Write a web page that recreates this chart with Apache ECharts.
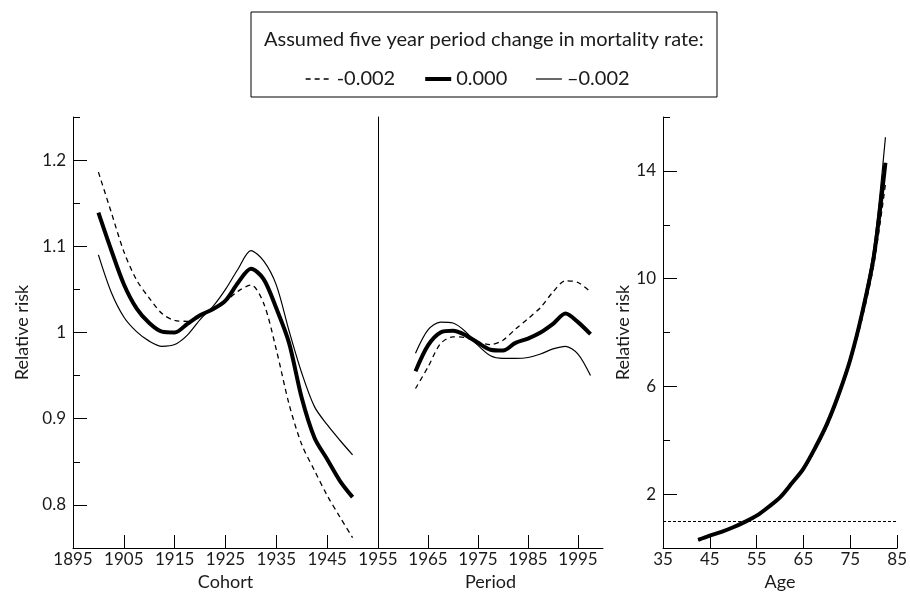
<!DOCTYPE html>
<html>
<head>
<meta charset="utf-8">
<script src="https://cdn.jsdelivr.net/npm/echarts@6/dist/echarts.min.js"></script>
<style>
html,body{margin:0;padding:0;background:#fff;}
#chart{width:910px;height:599px;}
</style>
</head>
<body>
<div id="chart"></div>
<script>
// ---- Data ----
const seriesNames = ['-0.002', '0.000', '\u20130.002'];
const legendTitle = 'Assumed five year period change in mortality rate:';

const cohortYears = [1900,1902.5,1905,1907.5,1910,1912.5,1915,1917.5,1920,1922.5,1925,1927.5,1930,1932.5,1935,1937.5,1940,1942.5,1945,1947.5,1950];
const cohortDashed = [1.186,1.140,1.094,1.061,1.040,1.022,1.014,1.013,1.019,1.026,1.036,1.048,1.055,1.034,0.980,0.917,0.870,0.840,0.811,0.786,0.762];
const cohortThick  = [1.139,1.096,1.056,1.028,1.011,1.001,1.000,1.010,1.020,1.027,1.037,1.058,1.074,1.062,1.028,0.988,0.924,0.878,0.853,0.828,0.809];
const cohortThin   = [1.090,1.047,1.018,1.001,0.990,0.984,0.986,0.997,1.015,1.030,1.050,1.074,1.095,1.083,1.055,1.002,0.953,0.914,0.893,0.875,0.858];

const periodYears = [1962.5,1965,1967.5,1970,1972.5,1975,1977.5,1980,1982.5,1985,1987.5,1990,1992.5,1995,1997.5];
const periodDashed = [0.935,0.960,0.987,0.995,0.994,0.989,0.986,0.991,1.004,1.016,1.029,1.047,1.060,1.058,1.047];
const periodThick  = [0.955,0.985,1.000,1.002,0.997,0.988,0.980,0.979,0.988,0.993,1.000,1.010,1.022,1.012,0.998];
const periodThin   = [0.976,1.003,1.012,1.011,1.001,0.985,0.973,0.970,0.970,0.971,0.975,0.981,0.984,0.975,0.950];

const ages = [42.5,45,47.5,50,52.5,55,57.5,60,62.5,65,67.5,70,72.5,75,77.5,80,82.5];
const ageDashed = [0.31,0.47,0.61,0.78,0.97,1.20,1.51,1.86,2.36,2.90,3.64,4.50,5.60,6.90,8.50,10.50,13.50];
const ageThick  = [0.30,0.46,0.60,0.77,0.97,1.20,1.52,1.88,2.40,2.95,3.72,4.60,5.70,7.00,8.70,10.80,14.30];
const ageThin   = [0.29,0.45,0.59,0.76,0.96,1.20,1.52,1.89,2.42,2.97,3.75,4.65,5.75,7.08,8.85,11.10,15.25];

const periodTicks = [1965,1975,1985,1995];
const rrLabels = [0.8,0.9,1,1.1,1.2];
const rrMajorTicks = [0.75,0.8,0.9,1,1.1,1.2];
const ageRRLabels = [2,6,10,14];
const ageRRMajorTicks = [0,2,6,10,14];
const refValue = 1;

// ---- Styling ----
const FONT = 'Lato';
const INK = '#1a1a1a';
const TICK = '#000';
const lineStyles = [
  {color:'#000', width:1.3, type:[5,4]},
  {color:'#000', width:4, type:'solid'},
  {color:'#000', width:1.2, type:'solid'}
];
const zip = (xs, ys) => xs.map((x,i)=>[x, ys[i]]);
const fmtNum = v => String(parseFloat(Number(v).toFixed(2)));
const mkLine = () => ({show:true, onZero:false, lineStyle:{color:'#000', width:1}});
const mkTick = (len, extra) => Object.assign({show:true, inside:true, length:len, lineStyle:{color:TICK, width:1}}, extra || {});
const labelStyle = () => ({color:INK, fontFamily:FONT, fontSize:17});
const nameStyle = () => ({color:INK, fontFamily:FONT, fontSize:18});

const grids = [
  {left:73, top:117, width:305, height:431},
  {left:378, top:117, width:225, height:431},
  {left:663, top:117, width:235, height:431}
];

const xAxes = [
  {gridIndex:0, type:'value', min:1895, max:1955, interval:10,
   axisLine:mkLine(), splitLine:{show:false},
   axisTick:mkTick(13),
   axisLabel:Object.assign(labelStyle(), {margin:3, formatter:v=>String(v)}),
   name:'Cohort', nameLocation:'middle', nameGap:25, nameTextStyle:nameStyle()},
  {gridIndex:1, type:'value', min:1955, max:2000,
   axisLine:mkLine(), splitLine:{show:false},
   axisTick:mkTick(13, {customValues:periodTicks}),
   axisLabel:Object.assign(labelStyle(), {margin:3, customValues:periodTicks, formatter:v=>String(v)}),
   name:'Period', nameLocation:'middle', nameGap:25, nameTextStyle:nameStyle()},
  {gridIndex:2, type:'value', min:35, max:85, interval:10,
   axisLine:mkLine(), splitLine:{show:false},
   axisTick:mkTick(13),
   axisLabel:Object.assign(labelStyle(), {margin:3, formatter:v=>String(v)}),
   name:'Age', nameLocation:'middle', nameGap:25, nameTextStyle:nameStyle()}
];

const yAxes = [
  {gridIndex:0, type:'value', position:'left', min:0.75, max:1.25, interval:0.05,
   axisLine:mkLine(), splitLine:{show:false},
   axisTick:mkTick(7),
   axisLabel:Object.assign(labelStyle(), {margin:7, customValues:rrLabels, formatter:fmtNum}),
   name:'Relative risk', nameLocation:'middle', nameGap:42, nameTextStyle:nameStyle()},
  {gridIndex:0, type:'value', position:'left', min:0.75, max:1.25,
   axisLine:{show:false, onZero:false}, splitLine:{show:false},
   axisTick:mkTick(14, {customValues:rrMajorTicks}),
   axisLabel:{show:false}},
  {gridIndex:1, type:'value', position:'left', min:0.75, max:1.25,
   axisLine:mkLine(), splitLine:{show:false}, axisTick:{show:false}, axisLabel:{show:false}},
  {gridIndex:2, type:'value', position:'left', min:0, max:16, interval:2,
   axisLine:mkLine(), splitLine:{show:false},
   axisTick:mkTick(7),
   axisLabel:Object.assign(labelStyle(), {margin:7, customValues:ageRRLabels, formatter:fmtNum}),
   name:'Relative risk', nameLocation:'middle', nameGap:28, nameTextStyle:nameStyle()},
  {gridIndex:2, type:'value', position:'left', min:0, max:16,
   axisLine:{show:false, onZero:false}, splitLine:{show:false},
   axisTick:mkTick(14, {customValues:ageRRMajorTicks}),
   axisLabel:{show:false}}
];

const panels = [
  {x:0, y:0, xs:cohortYears, vals:[cohortDashed, cohortThick, cohortThin]},
  {x:1, y:2, xs:periodYears, vals:[periodDashed, periodThick, periodThin]},
  {x:2, y:3, xs:ages, vals:[ageDashed, ageThick, ageThin]}
];

const series = [];
panels.forEach((p, pi) => {
  [2,0,1].forEach(k => {
    const s = {
      name: seriesNames[k], type:'line', xAxisIndex:p.x, yAxisIndex:p.y,
      data: zip(p.xs, p.vals[k]), symbol:'none', showSymbol:false,
      smooth:0.3, lineStyle: Object.assign({}, lineStyles[k]), itemStyle:{color:'#000'},
      silent:true, z: k===1 ? 3 : 2
    };
    if (pi === 2 && k === 1) {
      s.markLine = {silent:true, symbol:['none','none'], label:{show:false},
        lineStyle:{color:'#000', width:1, type:[3,2]},
        data:[{yAxis:refValue}]};
    }
    series.push(s);
  });
});

const legendData = seriesNames.map((n, k) => ({
  name: n,
  lineStyle: {color:'#000', width: lineStyles[k].width, type: k === 0 ? [5,4] : 'solid'}
}));

const chart = echarts.init(document.getElementById('chart'));
chart.setOption({
  backgroundColor:'#fff',
  animation:false,
  title:{text:legendTitle, left:259, top:25,
    textStyle:{fontFamily:FONT, fontSize:20, fontWeight:'normal', color:INK}},
  legend:{data:legendData, left:300, top:64, itemWidth:26, itemHeight:14, itemGap:28,
    itemStyle:{opacity:0},
    textStyle:{fontFamily:FONT, fontSize:20, color:INK}},
  graphic:[{type:'rect', shape:{x:251, y:12, width:466, height:85},
    style:{fill:'none', stroke:'#000', lineWidth:1}, silent:true}],
  grid:grids,
  xAxis:xAxes,
  yAxis:yAxes,
  series
});
</script>
</body>
</html>
